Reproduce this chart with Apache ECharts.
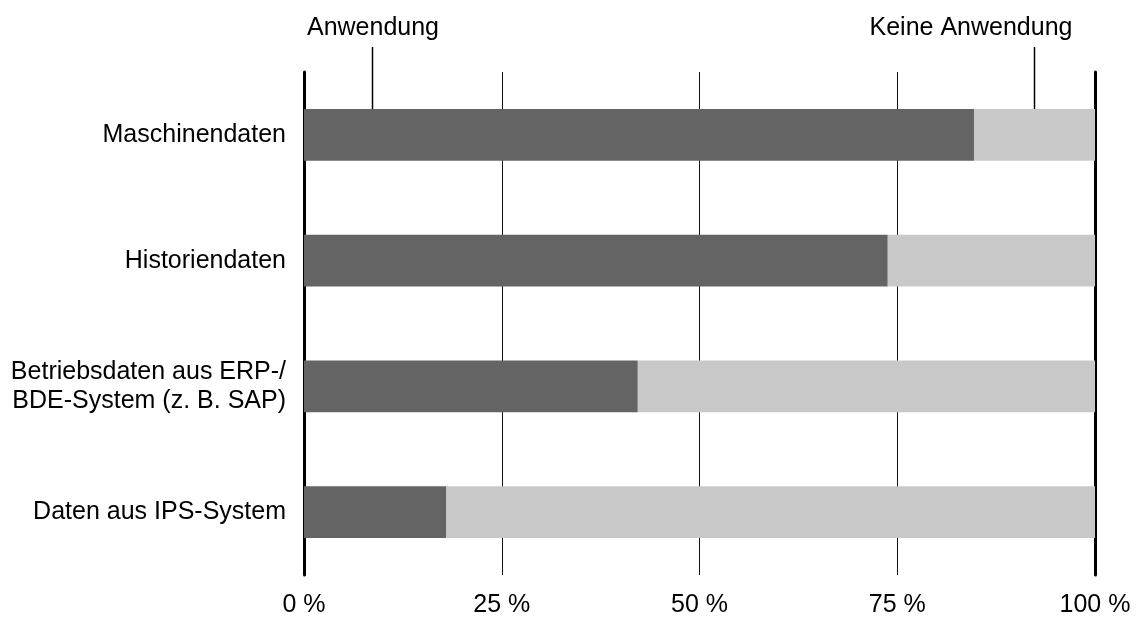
<!DOCTYPE html>
<html>
<head>
<meta charset="utf-8">
<title>Datenquellen – Anwendung</title>
<script src="https://cdn.jsdelivr.net/npm/echarts@6/dist/echarts.min.js"></script>
<style>
  html, body { margin: 0; padding: 0; background: #ffffff; }
  #chart { width: 1139px; height: 619px; }
</style>
</head>
<body>
<div id="chart"></div>
<script>
// Data sources and share of companies using them (in %)
const categories = [
  'Maschinendaten',
  'Historiendaten',
  'Betriebsdaten aus ERP-/\nBDE-System (z. B. SAP)',
  'Daten aus IPS-System'
];
const anwendung = [84.7, 73.8, 42.2, 18.0];
const keineAnwendung = [15.3, 26.2, 57.8, 82.0];
const xTicks = [0, 25, 50, 75, 100];
const seriesNames = ['Anwendung', 'Keine Anwendung'];
// x positions (in %) on the first bar where the two legend callouts point
const calloutAt = [8.6, (anwendung[0] + 100) / 2];

const FONT = '"Liberation Sans", Arial, Helvetica, sans-serif';
const FONT_SIZE = 25;
const DARK = '#646464';
const LIGHT = '#c8c8c8';

const chart = echarts.init(document.getElementById('chart'), null, { renderer: 'canvas' });

const yAxisBase = {
  type: 'category',
  data: categories,
  inverse: true,
  axisTick: { show: false },
  axisLine: { show: true, lineStyle: { color: '#000', width: 3 } },
  splitLine: { show: false }
};

chart.setOption({
  animation: false,
  backgroundColor: '#ffffff',
  grid: { left: 304, right: 44, top: 72, bottom: 44, containLabel: false },
  xAxis: {
    type: 'value',
    min: xTicks[0],
    max: xTicks[xTicks.length - 1],
    interval: 25,
    axisLine: { show: false },
    axisTick: { show: false },
    axisLabel: {
      color: '#000',
      fontFamily: FONT,
      fontSize: FONT_SIZE,
      margin: 18,
      formatter: v => v + ' %'
    },
    splitLine: { show: true, lineStyle: { color: '#111', width: 1 } }
  },
  yAxis: [
    Object.assign({}, yAxisBase, {
      position: 'left',
      axisLabel: {
        color: '#000',
        fontFamily: FONT,
        fontSize: FONT_SIZE,
        lineHeight: 29,
        margin: 18,
        align: 'right'
      }
    }),
    Object.assign({}, yAxisBase, {
      position: 'right',
      axisLabel: { show: false }
    })
  ],
  series: [
    {
      name: seriesNames[0],
      type: 'bar',
      stack: 'total',
      data: anwendung,
      itemStyle: { color: DARK },
      barCategoryGap: '59%',
      z: 2
    },
    {
      name: seriesNames[1],
      type: 'bar',
      stack: 'total',
      data: keineAnwendung,
      itemStyle: { color: LIGHT },
      barCategoryGap: '59%',
      z: 2
    }
  ]
});

// Legend callouts: label at the top, thin line down to the first bar
function drawCallouts() {
  const yCenter = chart.convertToPixel({ yAxisIndex: 0 }, categories[0]);
  const textX = [373, 971];
  const elements = [];
  seriesNames.forEach((name, i) => {
    const x = Math.round(chart.convertToPixel({ xAxisIndex: 0 }, calloutAt[i])) + 0.5;
    elements.push({
      type: 'line',
      z: 1,
      shape: { x1: x, y1: 47, x2: x, y2: yCenter },
      style: { stroke: '#000', lineWidth: 1.5 }
    });
    elements.push({
      type: 'text',
      z: 3,
      x: textX[i],
      y: 28,
      style: {
        text: name,
        fill: '#000',
        font: FONT_SIZE + 'px ' + FONT,
        align: 'center',
        verticalAlign: 'middle'
      }
    });
  });
  chart.setOption({ graphic: { elements: elements } });
}
drawCallouts();
</script>
</body>
</html>
